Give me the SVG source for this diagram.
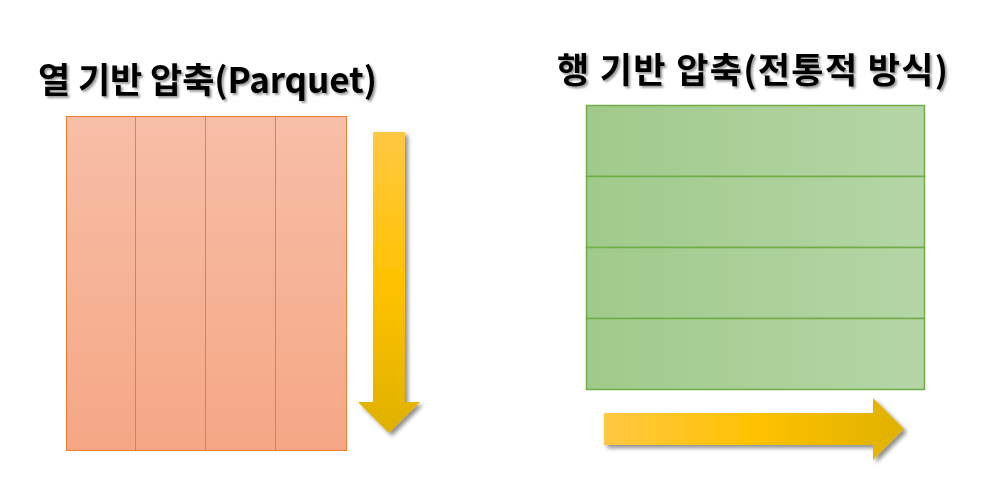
<svg xmlns="http://www.w3.org/2000/svg" width="1001" height="496" viewBox="0 0 1001 496">
<defs>
<linearGradient id="gOrange" x1="0" y1="0" x2="0" y2="1">
<stop offset="0" stop-color="#F7BEA7"/>
<stop offset="1" stop-color="#F5A785"/>
</linearGradient>
<linearGradient id="gGreen" x1="0" y1="0" x2="1" y2="0">
<stop offset="0" stop-color="#A0CA8B"/>
<stop offset="1" stop-color="#B5D5A6"/>
</linearGradient>
<linearGradient id="gGoldV" gradientUnits="userSpaceOnUse" x1="0" y1="132" x2="0" y2="433">
<stop offset="0" stop-color="#FFC843"/>
<stop offset="0.5" stop-color="#FFC200"/>
<stop offset="1" stop-color="#DFB100"/>
</linearGradient>
<linearGradient id="gGoldH" gradientUnits="userSpaceOnUse" x1="604" y1="0" x2="904" y2="0">
<stop offset="0" stop-color="#FFC843"/>
<stop offset="0.5" stop-color="#FFC200"/>
<stop offset="1" stop-color="#DFB100"/>
</linearGradient>
<filter id="shadow" x="-20%" y="-20%" width="150%" height="150%">
<feGaussianBlur in="SourceAlpha" stdDeviation="2"/>
<feOffset dx="2.5" dy="2.5" result="b"/>
<feComponentTransfer><feFuncA type="linear" slope="0.45"/></feComponentTransfer>
<feMerge><feMergeNode/><feMergeNode in="SourceGraphic"/></feMerge>
</filter>
<filter id="tshadow" x="-5%" y="-20%" width="110%" height="150%">
<feGaussianBlur in="SourceAlpha" stdDeviation="1.2"/>
<feOffset dx="2" dy="2" result="b"/>
<feComponentTransfer><feFuncA type="linear" slope="0.4"/></feComponentTransfer>
<feMerge><feMergeNode/><feMergeNode in="SourceGraphic"/></feMerge>
</filter>
</defs>
<style>
.title{font-family:"Noto Sans CJK KR","Noto Sans",sans-serif;font-weight:bold;font-size:35px;fill:#000;}
.col{fill:url(#gOrange);stroke:#ED7D31;stroke-width:1;}
.row{fill:url(#gGreen);stroke:#70AD47;stroke-width:1.5;}
</style>
<rect width="1001" height="496" fill="#FFFFFF"/>
<g id="title-left" filter="url(#tshadow)">
<text class="title" x="38" y="93" textLength="339" lengthAdjust="spacing">열 기반 압축(Parquet)</text>
</g>
<g id="title-right" filter="url(#tshadow)">
<text class="title" x="557" y="83" textLength="391" lengthAdjust="spacing">행 기반 압축(전통적 방식)</text>
</g>
<g id="columns">
<rect id="col1" class="col" x="66.5" y="116.5" width="69" height="334"/>
<rect id="col2" class="col" x="135.5" y="116.5" width="70" height="334"/>
<rect id="col3" class="col" x="205.5" y="116.5" width="70" height="334"/>
<rect id="col4" class="col" x="275.5" y="116.5" width="71" height="334"/>
</g>
<g id="rows">
<rect id="row1" class="row" x="586.5" y="105.5" width="338" height="71"/>
<rect id="row2" class="row" x="586.5" y="176.5" width="338" height="71"/>
<rect id="row3" class="row" x="586.5" y="247.5" width="338" height="71"/>
<rect id="row4" class="row" x="586.5" y="318.5" width="338" height="71"/>
</g>
<g id="connectors">
<polygon id="arrow-down" filter="url(#shadow)" fill="url(#gGoldV)" points="373,132 405,132 405,402 420,402 389,433 358,402 373,402"/>
<polygon id="arrow-right" filter="url(#shadow)" fill="url(#gGoldH)" points="604,413 873,413 873,398 904,429 873,460 873,445 604,445"/>
</g>
</svg>
